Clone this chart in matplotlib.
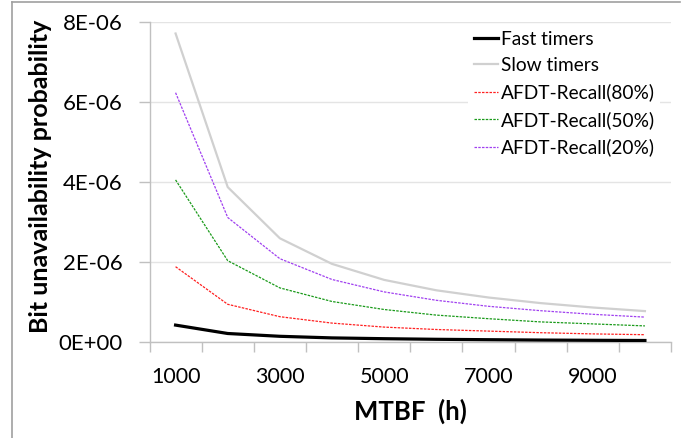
import matplotlib
matplotlib.use("Agg")
import matplotlib.pyplot as plt
from matplotlib.lines import Line2D
import numpy as np

# ---- data ----
mtbf = [1000, 2000, 3000, 4000, 5000, 6000, 7000, 8000, 9000, 10000]
fast = [0.43, 0.22, 0.15, 0.11, 0.09, 0.075, 0.065, 0.056, 0.05, 0.045]
slow = [7.72, 3.88, 2.60, 1.96, 1.56, 1.30, 1.12, 0.98, 0.87, 0.78]
recall80 = [1.89, 0.95, 0.64, 0.48, 0.38, 0.32, 0.28, 0.24, 0.21, 0.19]
recall50 = [4.06, 2.04, 1.36, 1.02, 0.82, 0.68, 0.59, 0.51, 0.46, 0.41]
recall20 = [6.24, 3.12, 2.09, 1.57, 1.26, 1.05, 0.90, 0.79, 0.70, 0.63]
scale = 1e-6
yticks = [0, 2e-6, 4e-6, 6e-6, 8e-6]
ytick_labels = ["0E+00", "2E-06", "4E-06", "6E-06", "8E-06"]
xtick_labels = ["1000", "3000", "5000", "7000", "9000"]

plt.rcParams['font.family'] = ['Lato', 'DejaVu Sans']

fig = plt.figure(figsize=(6.96, 4.38), dpi=100)
ax = fig.add_axes([149.5/696, 1-342.3/438, (671-149.5)/696, (342.3-22.3)/438])

x = np.arange(1, len(mtbf)+1)
def sc(v):
    return [a*scale for a in v]

ax.plot(x, sc(fast), color='black', lw=2.3, label='Fast timers', zorder=5)
ax.plot(x, sc(slow), color='#d0d0d0', lw=1.6, label='Slow timers', zorder=3)
ax.plot(x, sc(recall80), color='#ff2020', lw=0.9, ls=(0, (2, 1)), label='AFDT-Recall(80%)', zorder=4)
ax.plot(x, sc(recall50), color='#1a9a1a', lw=0.9, ls=(0, (2, 1)), label='AFDT-Recall(50%)', zorder=4)
ax.plot(x, sc(recall20), color='#a040f0', lw=0.9, ls=(0, (2, 1)), label='AFDT-Recall(20%)', zorder=4)

ax.set_xlim(0.5, len(mtbf)+0.5)
ax.set_ylim(0, 8e-6)

# category axis: ticks between categories, labels on every other category
ax.set_xticks(np.arange(0.5, len(mtbf)+1, 1.0))
ax.set_xticklabels([])
label_pos = [x[mtbf.index(int(t))] for t in xtick_labels]
ax.set_xticks(label_pos, minor=True)
ax.set_xticklabels(xtick_labels, minor=True)
ax.tick_params(axis='x', which='minor', length=0, pad=18, labelsize=15.5)
ax.tick_params(axis='x', which='major', length=7, color='#c0c0c0', width=1)

ax.set_yticks(yticks)
ax.set_yticklabels(ytick_labels)
ax.tick_params(axis='y', length=8, color='#c0c0c0', width=1, pad=11.5, labelsize=16)

ax.grid(axis='y', color='#e4e4e4', lw=1)
ax.set_axisbelow(True)
for s in ['top', 'right']:
    ax.spines[s].set_visible(False)
for s in ['left', 'bottom']:
    ax.spines[s].set_color('#c0c0c0')
    ax.spines[s].set_linewidth(1)

ax.set_xlabel('MTBF  (h)', fontsize=18.5, fontweight='bold', labelpad=8)
ax.set_ylabel('Bit unavailability probability', fontsize=18, fontweight='bold')
ax.yaxis.set_label_coords(-0.187, 0.52)

leg = ax.legend(loc='upper left', bbox_to_anchor=((468-149.5)/(671-149.5), 1-2.5/320),
                frameon=True, fontsize=13.8, handlelength=1.25, handletextpad=0.15,
                labelspacing=0.5, borderpad=0.3, borderaxespad=0)
leg.get_frame().set_facecolor('white')
leg.get_frame().set_edgecolor('none')
leg.get_frame().set_alpha(1)
leg.get_frame().set_boxstyle('square', pad=0)

# outer frame (left and top edges visible)
fig.add_artist(Line2D([11.5/696, 11.5/696], [0, 1-1.5/438], color='#a0a0a0', lw=1.2, transform=fig.transFigure))
fig.add_artist(Line2D([11.5/696, 680/696], [1-1.5/438, 1-1.5/438], color='#a0a0a0', lw=1.2, transform=fig.transFigure))

fig.savefig('out.png', dpi=100)
